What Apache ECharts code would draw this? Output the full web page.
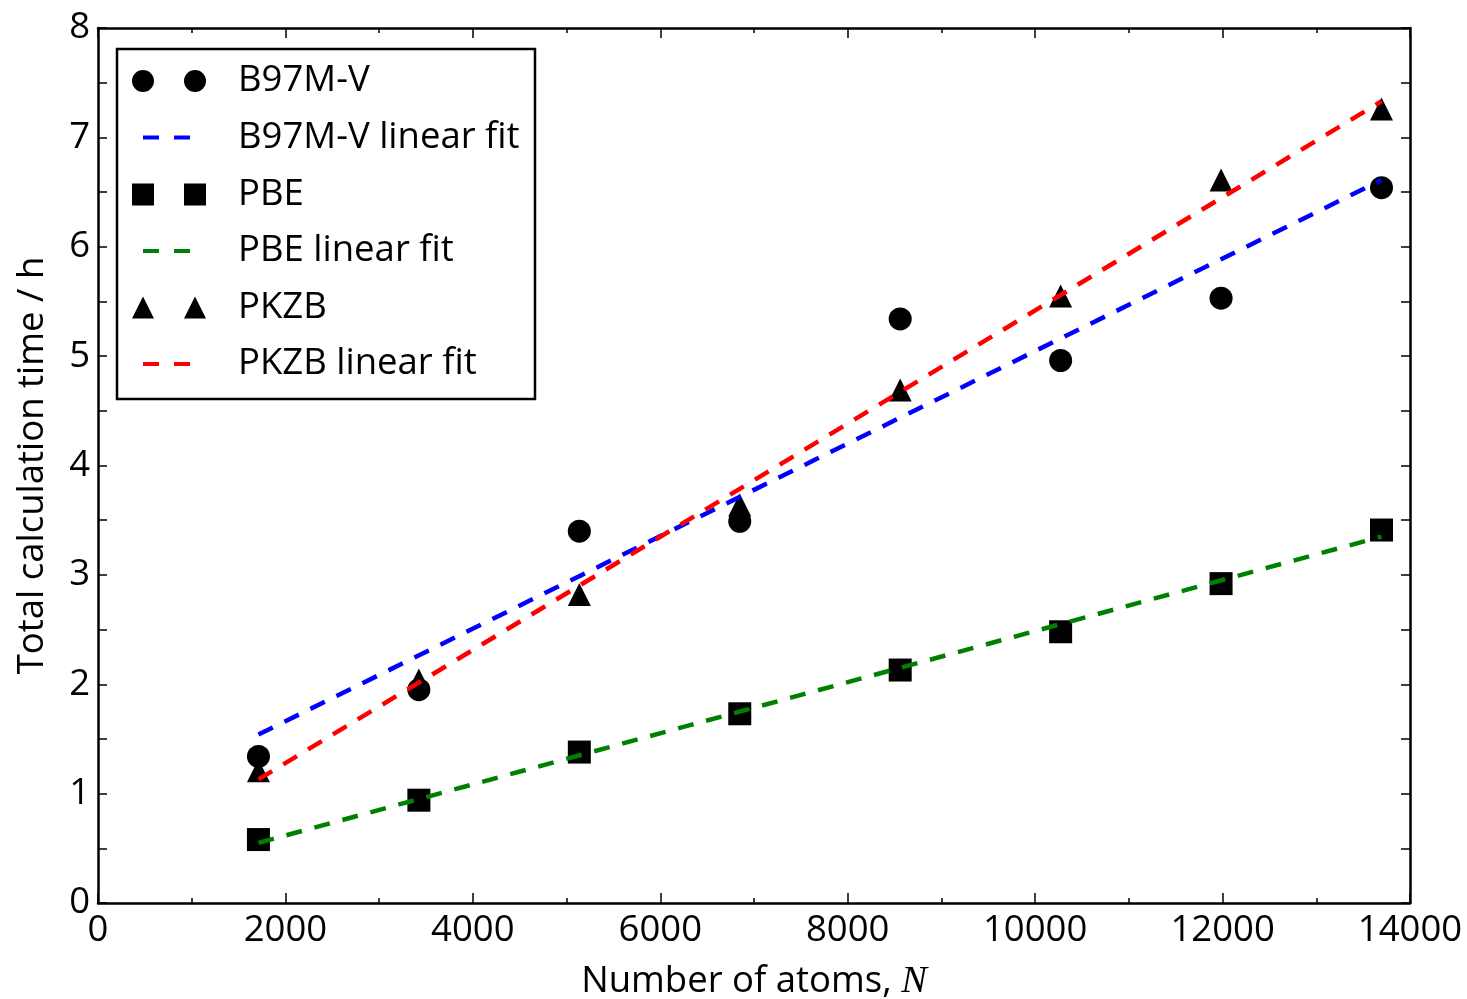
<!DOCTYPE html>
<html>
<head>
<meta charset="utf-8">
<script src="https://cdn.jsdelivr.net/npm/echarts@6/dist/echarts.min.js"></script>
<style>
html,body{margin:0;padding:0;background:#fff;}
#chart{width:1467px;height:999px;}
</style>
</head>
<body>
<div id="chart"></div>
<script>
// ---- data ----
const atoms = [1712, 3424, 5136, 6848, 8560, 10272, 11984, 13696];
const b97mv = [1.34, 1.95, 3.40, 3.49, 5.34, 4.96, 5.53, 6.54];
const pbe   = [0.58, 0.94, 1.38, 1.73, 2.13, 2.48, 2.92, 3.41];
const pkzb  = [1.21, 2.04, 2.82, 3.64, 4.69, 5.55, 6.61, 7.26];
// linear fit lines (endpoints)
const fitX    = [1712, 13696];
const b97mvFit = [1.54, 6.61];
const pbeFit   = [0.55, 3.35];
const pkzbFit  = [1.13, 7.33];
const xTicks = [0, 2000, 4000, 6000, 8000, 10000, 12000, 14000];
const yTicks = [0, 1, 2, 3, 4, 5, 6, 7, 8];

const FONT = '"Open Sans", "DejaVu Sans", sans-serif';
const FS = 36.5;
const pair = (xs, ys) => xs.map((x, i) => [x, ys[i]]);

const chart = echarts.init(document.getElementById('chart'), null, {renderer: 'canvas'});

const axisLine = {show: true, onZero: false, lineStyle: {color: '#000', width: 2.5}};
const xCommon = {
  type: 'value', min: xTicks[0], max: xTicks[xTicks.length - 1], interval: 2000,
  splitLine: {show: false},
  axisLine: axisLine,
  axisTick: {show: true, inside: true, length: 10, lineStyle: {color: '#000', width: 1.5}},
  minorTick: {show: true, splitNumber: 2, length: 5, lineStyle: {color: '#000', width: 1.5}},
  minorSplitLine: {show: false}
};
const yCommon = {
  type: 'value', min: yTicks[0], max: yTicks[yTicks.length - 1], interval: 1,
  splitLine: {show: false},
  axisLine: axisLine,
  axisTick: {show: true, inside: true, length: 9, lineStyle: {color: '#000', width: 1.5}},
  minorTick: {show: true, splitNumber: 2, length: 9, lineStyle: {color: '#000', width: 1.5}},
  minorSplitLine: {show: false}
};

const dashed = (color) => ({color: color, width: 4.5, type: [16, 13], opacity: 1});
const markStyle = {color: '#000', opacity: 1};
const MS = 23;

const series = [
  {name: 'B97M-V', type: 'scatter', symbol: 'circle', symbolSize: MS, itemStyle: markStyle, data: pair(atoms, b97mv)},
  {name: 'B97M-V linear fit', type: 'line', showSymbol: false, symbol: 'none', itemStyle: {color: '#0000ff'}, lineStyle: dashed('#0000ff'), data: pair(fitX, b97mvFit)},
  {name: 'PBE', type: 'scatter', symbol: 'rect', symbolSize: MS, itemStyle: markStyle, data: pair(atoms, pbe)},
  {name: 'PBE linear fit', type: 'line', showSymbol: false, symbol: 'none', itemStyle: {color: '#008000'}, lineStyle: dashed('#008000'), data: pair(fitX, pbeFit)},
  {name: 'PKZB', type: 'scatter', symbol: 'triangle', symbolSize: MS, itemStyle: markStyle, data: pair(atoms, pkzb)},
  {name: 'PKZB linear fit', type: 'line', showSymbol: false, symbol: 'none', itemStyle: {color: '#ff0000'}, lineStyle: dashed('#ff0000'), data: pair(fitX, pkzbFit)}
];

const ICON_CIRCLES = 'path://M0 11 A11 11 0 1 1 22 11 A11 11 0 1 1 0 11 Z M52 11 A11 11 0 1 1 74 11 A11 11 0 1 1 52 11 Z';
const ICON_SQUARES = 'path://M0 0 L22 0 L22 22 L0 22 Z M52 0 L74 0 L74 22 L52 22 Z';
const ICON_TRIS = 'path://M11 0 L22 22 L0 22 Z M63 0 L74 22 L52 22 Z';
const ICON_DASH = 'path://M0 0 L16 0 L16 4 L0 4 Z M31 0 L47 0 L47 4 L31 4 Z';

const rowCenters = [81, 137.5, 194.5, 251, 307.5, 364];
const legendDefs = [
  {name: 'B97M-V', icon: ICON_CIRCLES, w: 74, h: 22, left: 132, pad: 27},
  {name: 'B97M-V linear fit', icon: ICON_DASH, w: 47, h: 4.5, left: 143, pad: 43},
  {name: 'PBE', icon: ICON_SQUARES, w: 74, h: 22, left: 132, pad: 27},
  {name: 'PBE linear fit', icon: ICON_DASH, w: 47, h: 4.5, left: 143, pad: 43},
  {name: 'PKZB', icon: ICON_TRIS, w: 74, h: 22, left: 132, pad: 27},
  {name: 'PKZB linear fit', icon: ICON_DASH, w: 47, h: 4.5, left: 143, pad: 43}
];
const LH = 40;
const legends = legendDefs.map((d, i) => ({
  data: [{name: d.name, icon: d.icon, itemStyle: {opacity: 1}}],
  left: d.left,
  top: rowCenters[i] - LH / 2,
  orient: 'horizontal',
  padding: 0,
  itemWidth: d.w,
  itemHeight: d.h,
  selectedMode: false,
  textStyle: {fontFamily: FONT, fontSize: FS, color: '#000', lineHeight: LH, padding: [0, 0, 0, d.pad]}
}));

const plainNum = (v) => String(v);

chart.setOption({
  animation: false,
  backgroundColor: '#fff',
  textStyle: {fontFamily: FONT},
  grid: {left: 98, right: 57, top: 28, bottom: 96, containLabel: false, outerBoundsMode: 'none'},
  legend: legends,
  graphic: [{
    type: 'rect', left: 114.5, top: 46.5, z: 100,
    shape: {width: 418, height: 350},
    style: {fill: 'none', stroke: '#000', lineWidth: 2.5}
  }],
  xAxis: [
    Object.assign({}, xCommon, {
      position: 'bottom',
      name: '{a|Number of atoms, }{n|N}',
      nameLocation: 'middle', nameGap: 59,
      nameTextStyle: {
        rich: {
          a: {fontFamily: FONT, fontSize: FS, color: '#000'},
          n: {fontFamily: '"Liberation Serif", "DejaVu Serif", serif', fontStyle: 'italic', fontSize: FS + 2, color: '#000'}
        }
      },
      axisLabel: {show: true, margin: 9, fontFamily: FONT, fontSize: FS, color: '#000', formatter: plainNum}
    }),
    Object.assign({}, xCommon, {position: 'top', axisLabel: {show: false}})
  ],
  yAxis: [
    Object.assign({}, yCommon, {
      position: 'left',
      name: 'Total calculation time / h',
      nameLocation: 'middle', nameGap: 47,
      nameTextStyle: {fontFamily: FONT, fontSize: FS, color: '#000'},
      axisLabel: {show: true, margin: 8, fontFamily: FONT, fontSize: FS, color: '#000', formatter: plainNum}
    }),
    Object.assign({}, yCommon, {position: 'right', axisLabel: {show: false}})
  ],
  series: series
});
</script>
</body>
</html>
